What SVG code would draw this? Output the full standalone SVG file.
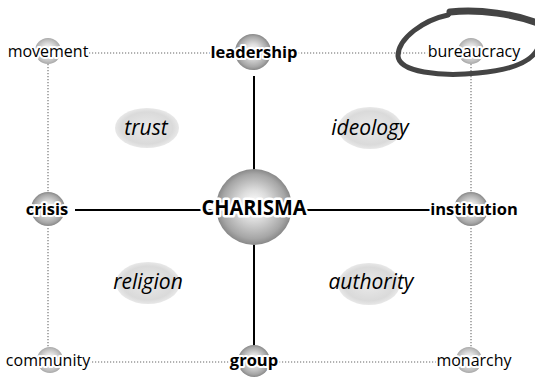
<svg xmlns="http://www.w3.org/2000/svg" width="535" height="380" viewBox="0 0 535 380">
<defs>
<radialGradient id="sphD" cx="0.5" cy="0.5" r="0.5" fx="0.5" fy="0.45">
<stop offset="0" stop-color="#ffffff"/>
<stop offset="0.4" stop-color="#dcdcdc"/>
<stop offset="0.85" stop-color="#a6a6a6"/>
<stop offset="1" stop-color="#888888"/>
</radialGradient>
<radialGradient id="sphL" cx="0.5" cy="0.5" r="0.5" fx="0.5" fy="0.45">
<stop offset="0" stop-color="#ffffff"/>
<stop offset="0.4" stop-color="#e6e6e6"/>
<stop offset="0.85" stop-color="#bdbdbd"/>
<stop offset="1" stop-color="#a8a8a8"/>
</radialGradient>
<radialGradient id="ell" cx="0.5" cy="0.5" r="0.5">
<stop offset="0" stop-color="#eaeaea"/>
<stop offset="0.8" stop-color="#dadada"/>
<stop offset="1" stop-color="#e8e8e8"/>
</radialGradient>
</defs>
<style>
text{font-family:"Open Sans","Liberation Sans",sans-serif;fill:#000;paint-order:stroke;stroke:#fff;stroke-linejoin:round}
.n{font-size:16px;stroke-width:4px}
.b{font-size:16.5px;font-weight:bold;stroke-width:4px}
.c{font-size:21px;font-weight:bold;stroke-width:5px}
.i{font-size:21px;font-style:italic;stroke:none}
.dot{stroke:#999;stroke-width:1.6;stroke-dasharray:1.2 1.8;fill:none}
.sol{stroke:#000;stroke-width:2;fill:none}
</style>
<g id="connectors">
<line class="dot" x1="89" y1="53" x2="210" y2="53"/>
<line class="dot" x1="298" y1="53" x2="428" y2="53"/>
<line class="dot" x1="89" y1="362" x2="230" y2="362"/>
<line class="dot" x1="279" y1="362" x2="438" y2="362"/>
<line class="dot" x1="48" y1="64" x2="48" y2="192"/>
<line class="dot" x1="48" y1="228" x2="48" y2="348"/>
<line class="dot" x1="471" y1="64" x2="471" y2="192"/>
<line class="dot" x1="471" y1="228" x2="471" y2="348"/>
<line class="sol" x1="254" y1="76" x2="254" y2="346"/>
<line class="sol" x1="75" y1="210" x2="432" y2="210"/>
</g>
<g id="trust"><ellipse cx="147" cy="128" rx="32" ry="20" fill="url(#ell)"/><text class="i" x="146" y="135" text-anchor="middle">trust</text></g>
<g id="ideology"><ellipse cx="370" cy="128" rx="32" ry="21" fill="url(#ell)"/><text class="i" x="370" y="135" text-anchor="middle">ideology</text></g>
<g id="religion"><ellipse cx="148" cy="283" rx="32" ry="21" fill="url(#ell)"/><text class="i" x="148" y="289" text-anchor="middle">religion</text></g>
<g id="authority"><ellipse cx="369" cy="284" rx="31" ry="21" fill="url(#ell)"/><text class="i" x="371" y="289" text-anchor="middle">authority</text></g>
<g id="movement"><circle cx="48" cy="51" r="13" fill="url(#sphL)"/><text class="n" x="48" y="57" text-anchor="middle">movement</text></g>
<g id="leadership"><circle cx="253" cy="52" r="18" fill="url(#sphD)"/><text class="b" x="254" y="58" text-anchor="middle">leadership</text></g>
<g id="bureaucracy"><circle cx="471" cy="51" r="13" fill="url(#sphL)"/><text class="n" x="474" y="57" text-anchor="middle">bureaucracy</text></g>
<g id="crisis"><circle cx="48" cy="209" r="17" fill="url(#sphD)"/><text class="b" x="47" y="215" text-anchor="middle">crisis</text></g>
<g id="charisma"><circle cx="254" cy="207" r="38" fill="url(#sphD)"/><text class="c" x="254" y="215" text-anchor="middle" textLength="105" lengthAdjust="spacingAndGlyphs">CHARISMA</text></g>
<g id="institution"><circle cx="471" cy="209" r="17" fill="url(#sphD)"/><text class="b" x="474" y="215" text-anchor="middle">institution</text></g>
<g id="community"><circle cx="50" cy="360" r="13" fill="url(#sphL)"/><text class="n" x="48" y="366" text-anchor="middle">community</text></g>
<g id="group"><circle cx="254" cy="361" r="16" fill="url(#sphD)"/><text class="b" x="254" y="366" text-anchor="middle">group</text></g>
<g id="monarchy"><circle cx="469" cy="360" r="13" fill="url(#sphL)"/><text class="n" x="474" y="366" text-anchor="middle">monarchy</text></g>
<g id="highlight" fill="none" stroke="#444" stroke-linecap="round">
<path d="M 448 15 C 424 20, 398 38, 398 56 C 399 72, 440 77, 478 73 C 512 70, 532 62, 538 48" stroke-width="5"/>
<path d="M 412 32 C 425 22, 438 17, 450 15" stroke-width="2"/>
<path d="M 450 12 C 480 9, 515 14, 540 24" stroke-width="7"/>
</g>
</svg>
